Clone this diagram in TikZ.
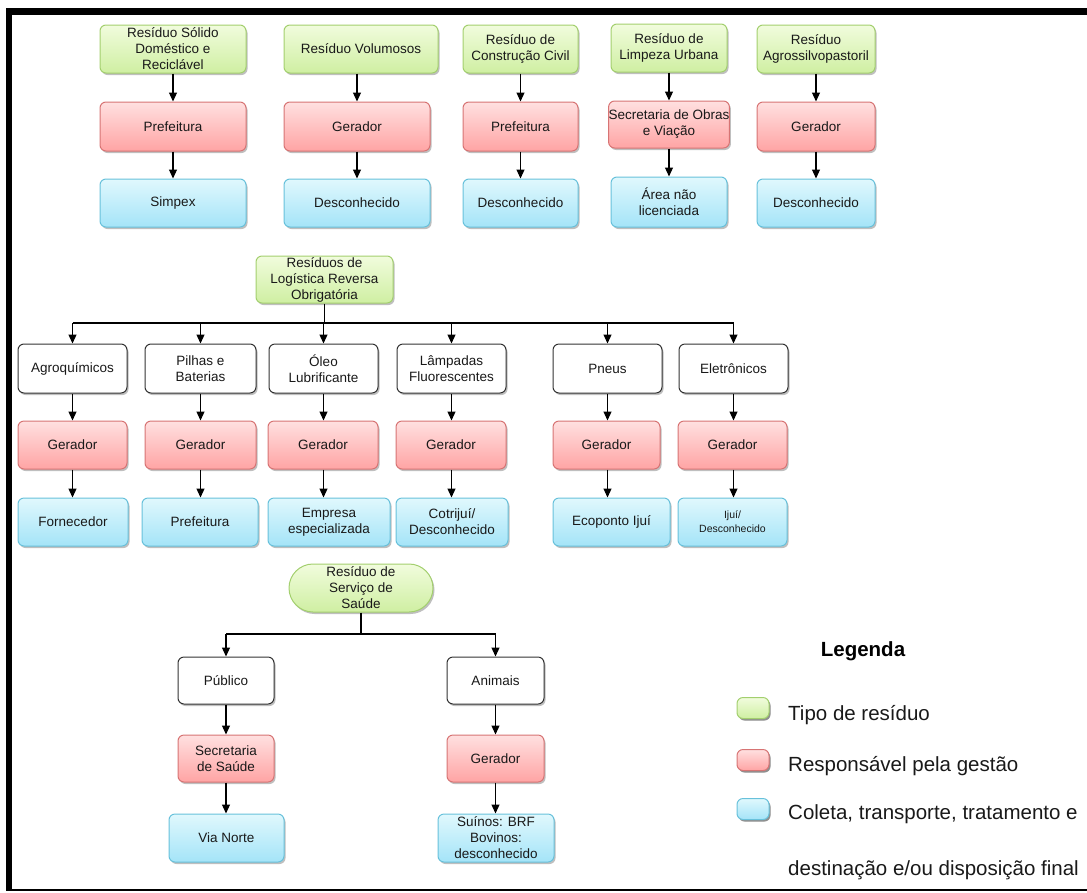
\documentclass[tikz,border=0pt]{standalone}
\usepackage{fontspec}
\setmainfont{Liberation Sans}
\usetikzlibrary{arrows.meta,shadows}

\definecolor{grnTop}{HTML}{F1FCDD}
\definecolor{grnBot}{HTML}{CFEFA2}
\definecolor{grnLine}{HTML}{A3CF6E}
\definecolor{redTop}{HTML}{FFE0E0}
\definecolor{redBot}{HTML}{FFA4A4}
\definecolor{redLine}{HTML}{D77474}
\definecolor{bluTop}{HTML}{E0F8FD}
\definecolor{bluBot}{HTML}{A4E4F8}
\definecolor{bluLine}{HTML}{68C1DB}

\newcommand\boxfont{\fontsize{13.5}{16}\selectfont}
\newcommand\smallboxfont{\fontsize{10.5}{14}\selectfont}
\newcommand\legfont{\fontsize{20.5}{23}\selectfont}

\tikzset{
  base/.style={rectangle, rounded corners=6pt, inner sep=0pt, align=center,
    font=\boxfont, text=black!90, line width=1pt,
    drop shadow={shadow xshift=1.5pt, shadow yshift=-2pt, opacity=0.25, fill=black}},
  tipo/.style={base, draw=grnLine, top color=grnTop, bottom color=grnBot},
  resp/.style={base, draw=redLine, top color=redTop, bottom color=redBot},
  dest/.style={base, draw=bluLine, top color=bluTop, bottom color=bluBot},
  cat/.style={base, draw=black!80, fill=white},
  arr/.style={-{Triangle[length=9pt,width=8pt]}, line width=1.2pt, black},
  bus/.style={line width=1.2pt, black},
  swatch/.style={base, minimum width=32pt, minimum height=21pt, rounded corners=4pt},
  legtext/.style={anchor=base west, inner sep=0pt, font=\legfont, text=black!90},
}

\begin{document}
\begin{tikzpicture}[x=1pt,y=-1pt]
\useasboundingbox (0,0) rectangle (1087,892);

% frame
\fill[black] (6,8) rectangle (1087,15);
\fill[black] (6,8) rectangle (12,890);
\fill[black] (6,889) rectangle (1087,891);

% ---------- top row: five waste types ----------
\node[tipo, minimum width=146pt, minimum height=48pt] (g1) at (173,49) {Resíduo Sólido\\Doméstico e\\Reciclável};
\node[resp, minimum width=146pt, minimum height=49pt] (r1) at (173,126.5) {Prefeitura};
\node[dest, minimum width=146pt, minimum height=48pt] (b1) at (173,203) {Simpex};

\node[tipo, minimum width=154pt, minimum height=48pt] (g2) at (361,49) {Resíduo Volumosos};
\node[resp, minimum width=146pt, minimum height=49pt] (r2) at (357,126.5) {Gerador};
\node[dest, minimum width=146pt, minimum height=48pt] (b2) at (357,203) {Desconhecido};

\node[tipo, minimum width=115pt, minimum height=48pt] (g3) at (520.5,49) {Resíduo de\\Construção Civil};
\node[resp, minimum width=115pt, minimum height=49pt] (r3) at (520.5,126.5) {Prefeitura};
\node[dest, minimum width=115pt, minimum height=48pt] (b3) at (520.5,203) {Desconhecido};

\node[tipo, minimum width=116pt, minimum height=48pt] (g4) at (669,48) {Resíduo de\\Limpeza Urbana};
\node[resp, minimum width=116pt, minimum height=47pt] (r4) at (669,124.5) {Secretaria de Obras\\e  Viação};
\node[dest, minimum width=116pt, minimum height=50pt] (b4) at (669,202) {Área não\\licenciada};

\node[tipo, minimum width=118pt, minimum height=48pt] (g5) at (816,49) {Resíduo\\Agrossilvopastoril};
\node[resp, minimum width=118pt, minimum height=49pt] (r5) at (816,126.5) {Gerador};
\node[dest, minimum width=118pt, minimum height=48pt] (b5) at (816,203) {Desconhecido};

\foreach \i in {1,...,5}{
  \draw[arr] (r\i.north |- g\i.south) -- (r\i.north);
  \draw[arr] (r\i.south) -- (b\i.north -| r\i.south);
}

% ---------- reverse logistics ----------
\node[tipo, minimum width=137pt, minimum height=47pt] (L) at (324.5,279.5) {Resíduos de\\Logística Reversa\\Obrigatória};

\node[cat, minimum width=109pt, minimum height=49pt] (w1) at (72.5,368.5) {Agroquímicos};
\node[cat, minimum width=111pt, minimum height=49pt] (w2) at (200.5,368.5) {Pilhas e\\Baterias};
\node[cat, minimum width=109pt, minimum height=49pt] (w3) at (323.5,368.5) {Óleo\\Lubrificante};
\node[cat, minimum width=109pt, minimum height=49pt] (w4) at (451.5,368.5) {Lâmpadas\\Fluorescentes};
\node[cat, minimum width=109pt, minimum height=49pt] (w5) at (607.5,368.5) {Pneus};
\node[cat, minimum width=109pt, minimum height=49pt] (w6) at (733.5,368.5) {Eletrônicos};

\node[resp, minimum width=109pt, minimum height=48pt] (q1) at (72.5,445) {Gerador};
\node[resp, minimum width=111pt, minimum height=48pt] (q2) at (200.5,445) {Gerador};
\node[resp, minimum width=110pt, minimum height=48pt] (q3) at (323,445) {Gerador};
\node[resp, minimum width=110pt, minimum height=48pt] (q4) at (451,445) {Gerador};
\node[resp, minimum width=107pt, minimum height=48pt] (q5) at (606.5,445) {Gerador};
\node[resp, minimum width=109pt, minimum height=48pt] (q6) at (732.5,445) {Gerador};

\node[dest, minimum width=110pt, minimum height=48pt] (d1) at (73,522) {Fornecedor};
\node[dest, minimum width=116pt, minimum height=48pt] (d2) at (200,522) {Prefeitura};
\node[dest, minimum width=122pt, minimum height=48pt] (d3) at (329,522) {Empresa\\especializada};
\node[dest, minimum width=112pt, minimum height=48pt] (d4) at (452,522) {Cotrijuí/\\Desconhecido};
\node[dest, minimum width=117pt, minimum height=48pt] (d5) at (611.5,522) {Ecoponto Ijuí};
\node[dest, minimum width=109pt, minimum height=48pt, font=\smallboxfont] (d6) at (732.5,522) {Ijuí/\\Desconhecido};

\coordinate (Lbus) at (324.5,323);
\draw[bus] (L.south) -- (Lbus);
\draw[bus] (w1.north |- Lbus) -- (w6.north |- Lbus);
\foreach \i in {1,...,6}{
  \draw[arr] (w\i.north |- Lbus) -- (w\i.north);
  \draw[arr] (w\i.south) -- (q\i.north -| w\i.south);
  \draw[arr] (q\i.south -| w\i.south) -- (d\i.north -| w\i.south);
}

% ---------- health services ----------
\node[tipo, minimum width=144pt, minimum height=48pt, rounded corners=24pt] (S) at (361,588) {Resíduo de\\Serviço de\\Saúde};

\node[cat, minimum width=96pt, minimum height=47pt] (P) at (226,680.5) {Público};
\node[cat, minimum width=97pt, minimum height=47pt] (A) at (495.5,680.5) {Animais};
\node[resp, minimum width=96pt, minimum height=47pt] (PS) at (226,758.5) {Secretaria\\de Saúde};
\node[resp, minimum width=97pt, minimum height=47pt] (AG) at (495.5,758.5) {Gerador};
\node[dest, minimum width=115pt, minimum height=48pt] (PD) at (226.5,838) {Via Norte};
\node[dest, minimum width=116pt, minimum height=48pt] (AD) at (496,838) {Suínos: BRF\\Bovinos:\\desconhecido};

\coordinate (Sbus) at (361,634);
\draw[bus] (S.south) -- (Sbus);
\draw[bus] (P.north |- Sbus) -- (A.north |- Sbus);
\draw[arr] (P.north |- Sbus) -- (P.north);
\draw[arr] (A.north |- Sbus) -- (A.north);
\draw[arr] (P.south) -- (PS.north);
\draw[arr] (A.south) -- (AG.north);
\draw[arr] (PS.south) -- (PD.north -| PS.south);
\draw[arr] (AG.south) -- (AD.north -| AG.south);

% ---------- legend ----------
\node[anchor=base, inner sep=0pt, font=\legfont\bfseries] (legtitle) at (863,656) {Legenda};
\node[swatch, tipo] (k1) at (753,708) {};
\node[swatch, resp] (k2) at (753,760) {};
\node[swatch, dest] (k3) at (753,809) {};
\node[legtext] (t1) at (788,720) {Tipo de resíduo};
\node[legtext] (t2) at (788,771) {Responsável pela gestão};
\node[legtext] (t3) at (788,819) {Coleta, transporte, tratamento e};
\node[legtext] (t4) at (788,875) {destinação e/ou disposição final};
\end{tikzpicture}
\end{document}
